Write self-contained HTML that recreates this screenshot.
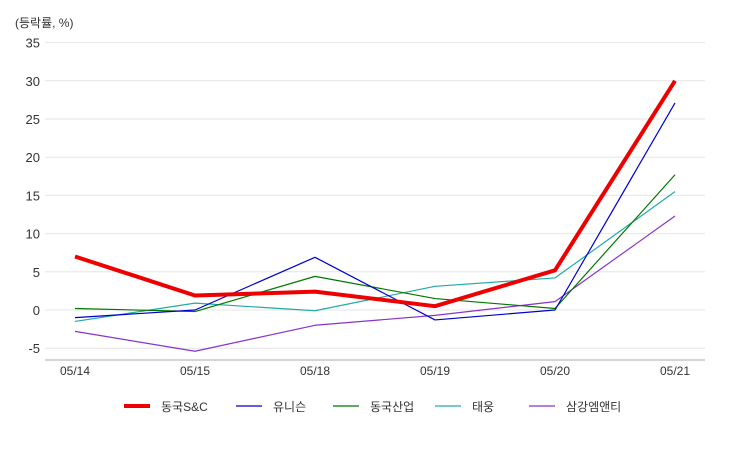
<!DOCTYPE html>
<html><head><meta charset="utf-8"><style>
body{margin:0;background:#fff;font-family:"Liberation Sans","Noto Sans CJK KR",sans-serif;}
svg text{font-family:"Liberation Sans","Noto Sans CJK KR",sans-serif;}
</style></head><body>
<svg id="chart" width="750" height="450"></svg>
<script>
const categories=["05/14","05/15","05/18","05/19","05/20","05/21"];
const yTicks=[-5,0,5,10,15,20,25,30,35];
const seriesNames=["동국S&C","유니슨","동국산업","태웅","삼강엠앤티"];
const seriesColors=["#ee0000","#0000cc","#007700","#22aaaa","#8833cc"];
const seriesWidths=[4,1.2,1.2,1.2,1.2];
const sDongkukSC=[7,1.9,2.4,0.5,5.2,30];
const sUnison=[-1,0,6.9,-1.3,0,27.1];
const sDongkukInd=[0.2,-0.2,4.4,1.5,0.2,17.7];
const sTaewoong=[-1.5,0.9,-0.1,3.1,4.2,15.5];
const sSamkang=[-2.8,-5.4,-2,-0.7,1.1,12.3];
const seriesData=[sDongkukSC,sUnison,sDongkukInd,sTaewoong,sSamkang];
const NS="http://www.w3.org/2000/svg";
const svg=document.getElementById('chart');
function y(v){return 310-v*7.64;}
function x(i){return 75+i*120;}
function el(t,a,p){const e=document.createElementNS(NS,t);for(const k in a)e.setAttribute(k,a[k]);(p||svg).appendChild(e);return e;}
let t=el('text',{x:15,y:27,'font-size':12,fill:'#333'});t.textContent='(등락률, %)';


yTicks.forEach(v=>{
  const g=el('line',{x1:45,x2:705,y1:y(v),y2:y(v),stroke:'#e6e6e6','stroke-width':1});
  
  
  const l=el('text',{x:40,y:y(v)+5,'text-anchor':'end','font-size':13,fill:'#333'});l.textContent=v;
  
  
});
const ax=el('line',{x1:45,x2:705,y1:360,y2:360,stroke:'#aaa','stroke-width':1});


categories.forEach((c,i)=>{
  const l=el('text',{x:x(i),y:375,'text-anchor':'middle','font-size':12,fill:'#333'});l.textContent=c;
  
  
});
for(let s=seriesData.length-1;s>=0;s--){
  const p=el('polyline',{points:seriesData[s].map((v,i)=>x(i)+','+y(v)).join(' '),fill:'none',stroke:seriesColors[s],'stroke-width':seriesWidths[s],'stroke-linejoin':'round'});
  
  
}
const lx=[124,236,333,435,529];
seriesNames.forEach((n,i)=>{
  const g=el('g',{});
  
  
  el('line',{x1:lx[i],x2:lx[i]+26,y1:406,y2:406,stroke:seriesColors[i],'stroke-width':seriesWidths[i]},g);
  const tt=el('text',{x:lx[i]+37,y:411,'font-size':12,fill:'#333'},g);tt.textContent=n;
});
</script>
</body></html>
